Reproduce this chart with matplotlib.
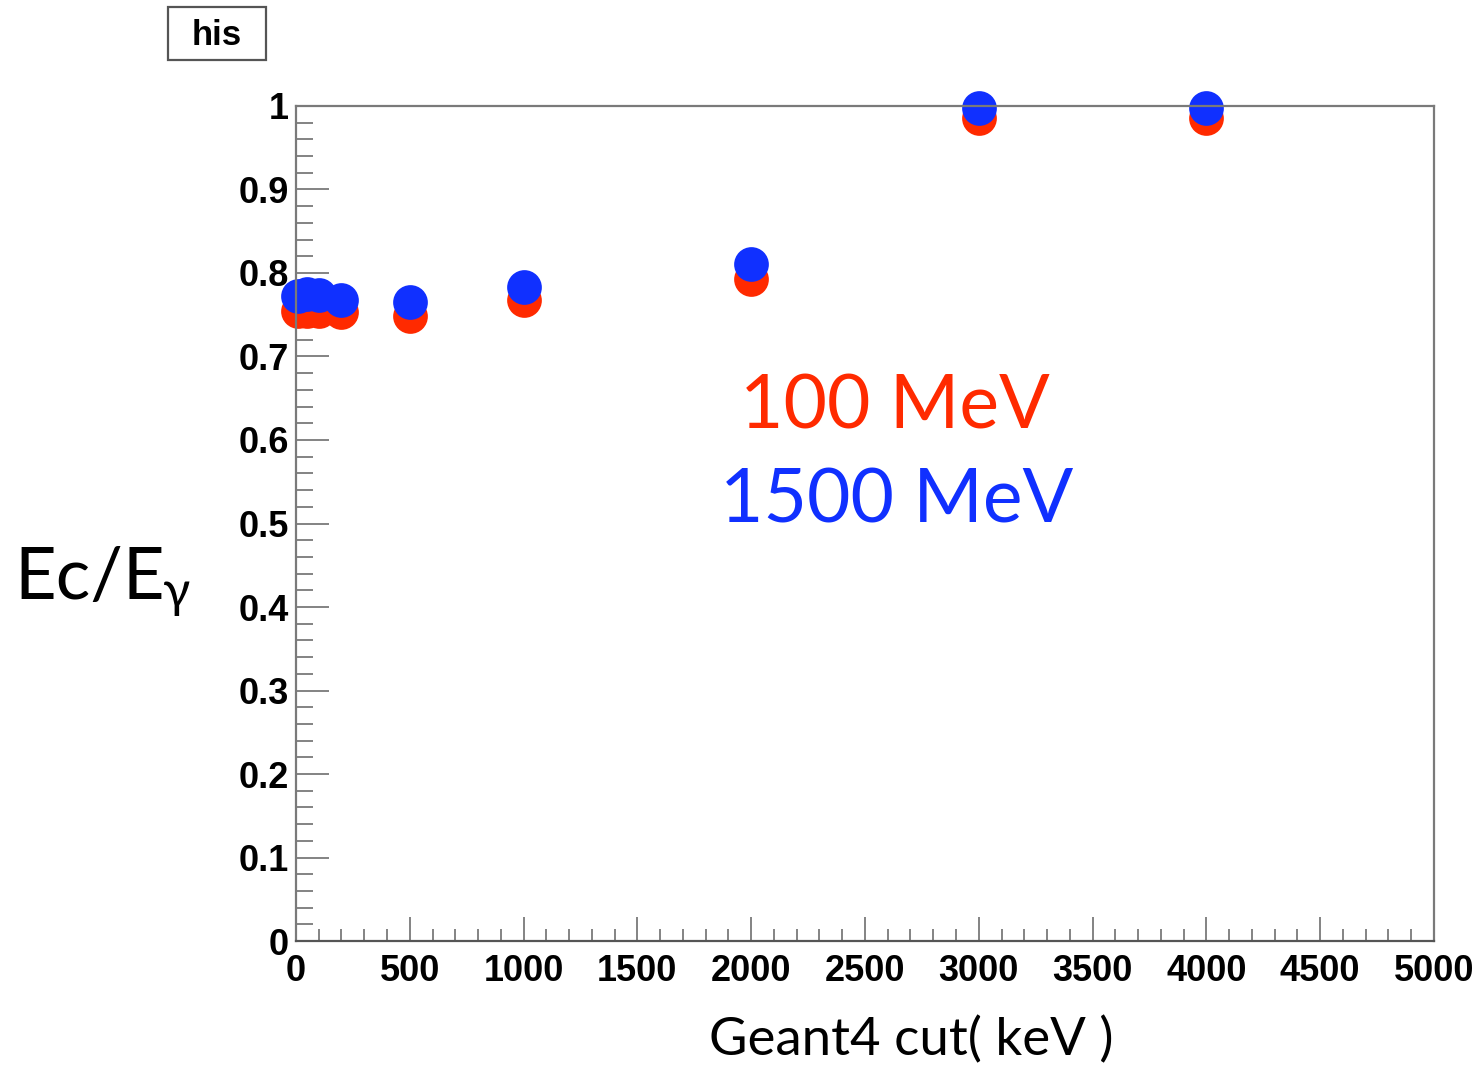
import matplotlib
matplotlib.use("Agg")
import matplotlib.pyplot as plt
from matplotlib.patches import Rectangle
from matplotlib.ticker import MultipleLocator

# Geant4 production cut (keV) and Ec/Egamma for the two beam energies
cuts = [10, 50, 100, 200, 500, 1000, 2000, 3000, 4000]
ratio_100mev = [0.754, 0.754, 0.755, 0.753, 0.748, 0.768, 0.793, 0.986, 0.986]
ratio_1500mev = [0.772, 0.775, 0.774, 0.768, 0.765, 0.783, 0.811, 0.998, 0.998]

RED = "#ff2a00"
BLUE = "#1030ff"
AXCOL = "#7a7a7a"

fig = plt.figure(figsize=(14.82, 10.65), dpi=100)
ax = fig.add_axes([0.1997, 0.1164, 0.7679, 0.7841])

ax.plot(cuts, ratio_100mev, "o", color=RED, markersize=25, markeredgewidth=0, clip_on=False)
ax.plot(cuts, ratio_1500mev, "o", color=BLUE, markersize=25, markeredgewidth=0, clip_on=False)

ax.set_xlim(0, 5000)
ax.set_ylim(0, 1)
ax.xaxis.set_major_locator(MultipleLocator(500))
ax.xaxis.set_minor_locator(MultipleLocator(100))
ax.yaxis.set_minor_locator(MultipleLocator(0.02))
ax.set_yticks([0, 0.1, 0.2, 0.3, 0.4, 0.5, 0.6, 0.7, 0.8, 0.9, 1.0])
ax.set_yticklabels(["0", "0.1", "0.2", "0.3", "0.4", "0.5", "0.6", "0.7", "0.8", "0.9", "1"])

for s in ax.spines.values():
    s.set_color(AXCOL)
    s.set_linewidth(1.6)
ax.spines["bottom"].set_color("#555555")

ax.tick_params(axis="both", which="both", direction="in", colors=AXCOL, width=1.3)
ax.tick_params(axis="y", which="major", length=24, pad=5)
ax.tick_params(axis="y", which="minor", length=12)
ax.tick_params(axis="x", which="major", length=17, pad=9)
ax.tick_params(axis="x", which="minor", length=9)
for lab in ax.get_xticklabels() + ax.get_yticklabels():
    lab.set_fontfamily("Liberation Sans")
    lab.set_fontweight("bold")
    lab.set_fontsize(26)
    lab.set_color("black")

# ROOT style title box
fig.patches.append(Rectangle((0.1134, 0.9437), 0.0661, 0.0498, transform=fig.transFigure,
                             fc="white", ec="#555555", lw=1.6))
fig.text(0.1465, 0.967, "his", fontsize=25, fontweight="bold", family="Liberation Sans",
         ha="center", va="center")

# energy annotations
fig.text(0.604, 0.598, "100 MeV", color=RED, fontsize=54, family="Lato",
         ha="center", va="baseline")
fig.text(0.605, 0.509, "1500 MeV", color=BLUE, fontsize=54, family="Lato",
         ha="center", va="baseline")

# axis titles
fig.text(0.010, 0.438, "Ec/E", fontsize=52, family="Lato", ha="left", va="baseline")
fig.text(0.110, 0.430, "γ", fontsize=36, family="Lato", ha="left", va="baseline")
fig.text(0.615, 0.009, "Geant4 cut( keV )", fontsize=38, family="Lato",
         ha="center", va="baseline")

fig.savefig("out.png", dpi=100)
